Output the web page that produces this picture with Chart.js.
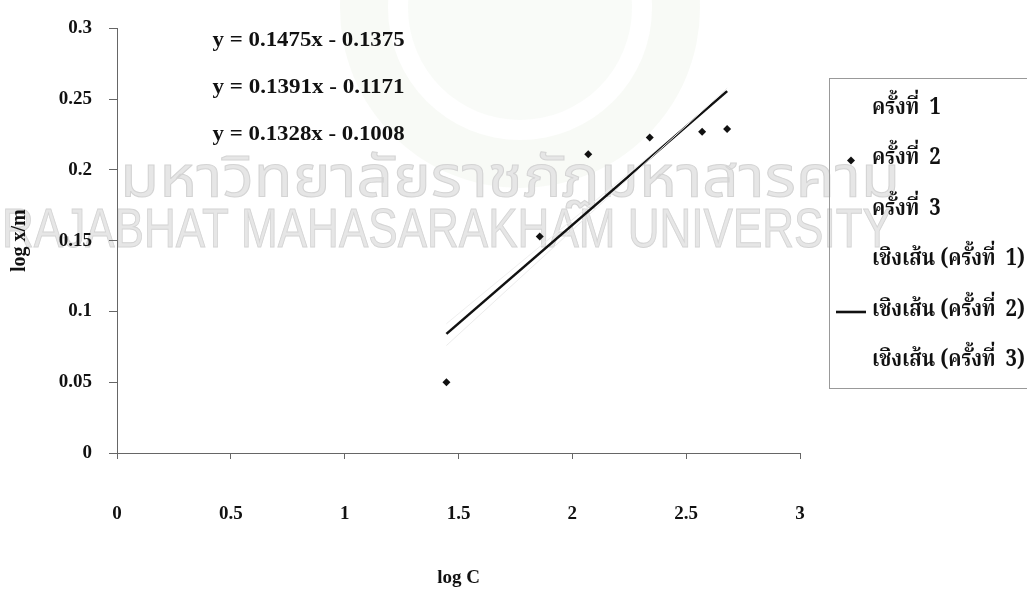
<!DOCTYPE html>
<html>
<head>
<meta charset="utf-8">
<script src="https://cdn.jsdelivr.net/npm/chart.js@4.4.1/dist/chart.umd.min.js"></script>
<style>
  html, body { margin: 0; padding: 0; background: #ffffff; }
  #wrap { width: 1027px; height: 593px; position: relative; }
</style>
</head>
<body>
<div id="wrap"><canvas id="c"></canvas></div>
<script>
// log C values of the measured points
const logC = [1.447, 1.857, 2.07, 2.34, 2.57, 2.68];
// log x/m for each run (runs 1 and 3 print too faintly to read)
const run1 = [];
const run2 = [0.050, 0.153, 0.211, 0.223, 0.227, 0.229];
const run3 = [];
// fitted linear trends: y = slope * x + intercept
const slopes = [0.1475, 0.1391, 0.1328];
const intercepts = [-0.1375, -0.1171, -0.1008];
const runNames = ['ครั้งที่  1', 'ครั้งที่  2', 'ครั้งที่  3'];
const trendNames = ['เชิงเส้น (ครั้งที่  1)', 'เชิงเส้น (ครั้งที่  2)', 'เชิงเส้น (ครั้งที่  3)'];
const xTicks = [0, 0.5, 1, 1.5, 2, 2.5, 3];
const yTicks = [0, 0.05, 0.1, 0.15, 0.2, 0.25, 0.3];

const SERIF = '"Liberation Serif", "Times New Roman", serif';
const THAI = '"Noto Serif Thai", "Norasi", "Kinnari", "Noto Sans Thai", "Loma", "DejaVu Sans", sans-serif';

function points(xs, ys) { return ys.map((y, i) => ({ x: xs[i], y })); }
function trend(k) {
  const lo = Math.min(...logC), hi = Math.max(...logC);
  return [lo, hi].map(x => ({ x, y: slopes[k] * x + intercepts[k] }));
}
function eqText(k) {
  const b = intercepts[k];
  return 'y = ' + slopes[k].toFixed(4) + 'x ' + (b < 0 ? '- ' : '+ ') + Math.abs(b).toFixed(4);
}

const runColors = ['rgba(255,255,255,0)', '#111111', 'rgba(255,255,255,0)'];
const trendColors = ['#ececec', '#111111', '#efefef'];

const datasets = [];
[run1, run2, run3].forEach((ys, k) => datasets.push({
  type: 'scatter', label: runNames[k], data: points(logC, ys),
  pointStyle: 'rectRot', pointRadius: 4, borderWidth: 0,
  backgroundColor: runColors[k], borderColor: runColors[k], legendMark: k === 1 ? 'diamond' : 'none'
}));
[0, 1, 2].forEach(k => datasets.push({
  type: 'line', label: trendNames[k], data: trend(k),
  borderColor: trendColors[k], borderWidth: k === 1 ? 2.6 : 1, pointRadius: 0,
  fill: false, tension: 0, legendMark: k === 1 ? 'line' : 'none'
}));

// draw text squeezed or stretched horizontally to a given width
function fitText(ctx, text, x, y, width, outline) {
  const w = ctx.measureText(text).width;
  ctx.save(); ctx.translate(x, y); ctx.scale(width / w, 1);
  ctx.fillText(text, 0, 0);
  if (outline) ctx.strokeText(text, 0, 0);
  ctx.restore();
}

// faint university watermark behind the plot
const backdrop = {
  id: 'backdrop',
  beforeDraw(chart) {
    const ctx = chart.ctx;
    ctx.save();
    ctx.fillStyle = '#ffffff';
    ctx.fillRect(0, 0, chart.width, chart.height);
    // seal
    ctx.beginPath();
    ctx.arc(520, 8, 180, 0, Math.PI * 2);
    ctx.arc(520, 8, 132, 0, Math.PI * 2, true);
    ctx.fillStyle = 'rgba(196,210,182,0.12)';
    ctx.fill();
    ctx.beginPath();
    ctx.arc(520, 8, 112, 0, Math.PI * 2);
    ctx.fillStyle = 'rgba(200,212,188,0.10)';
    ctx.fill();
    // names
    ctx.textBaseline = 'alphabetic';
    ctx.fillStyle = '#e6e6e6';
    ctx.strokeStyle = '#d4d4d4';
    ctx.lineWidth = 1;
    ctx.font = '58px "Noto Sans Thai", "Loma", sans-serif';
    fitText(ctx, 'มหาวิทยาลัยราชภัฏมหาสารคาม', 120, 196, 780, true);
    ctx.font = '56px "Liberation Sans Narrow", "Liberation Sans", sans-serif';
    fitText(ctx, 'RAJABHAT MAHASARAKHAM UNIVERSITY', 2, 247, 890, true);
    ctx.restore();
  }
};

// trend equations and the boxed legend
const notes = {
  id: 'notes',
  afterDraw(chart) {
    const ctx = chart.ctx;
    const xs = chart.scales.x;
    ctx.save();
    ctx.fillStyle = '#111';
    ctx.font = 'bold 20px ' + SERIF;
    ctx.textBaseline = 'middle';
    ctx.textAlign = 'left';
    const ex = xs.getPixelForValue(0.42);
    [0, 1, 2].forEach(k => fitText(ctx, eqText(k), ex, 41 + k * 47, 192, false));

    // legend frame
    ctx.strokeStyle = '#999999';
    ctx.lineWidth = 1;
    ctx.strokeRect(829.5, 78.5, 220, 310);
    const items = chart.data.datasets;
    ctx.font = 'bold 23px ' + THAI;
    const squeeze = 153 / ctx.measureText(trendNames[0]).width;
    items.forEach((ds, i) => {
      const y = 110 + i * 50.5;
      if (ds.legendMark === 'diamond') {
        ctx.fillStyle = ds.backgroundColor;
        ctx.beginPath();
        ctx.moveTo(851, y - 4); ctx.lineTo(855, y); ctx.lineTo(851, y + 4); ctx.lineTo(847, y);
        ctx.closePath(); ctx.fill();
      } else if (ds.legendMark === 'line') {
        ctx.strokeStyle = ds.borderColor; ctx.lineWidth = ds.borderWidth;
        ctx.beginPath(); ctx.moveTo(836, y); ctx.lineTo(866, y); ctx.stroke();
      }
      ctx.fillStyle = '#111';
      ctx.save(); ctx.translate(872, y); ctx.scale(squeeze, 1); ctx.fillText(ds.label, 0, 0); ctx.restore();
    });
    ctx.restore();
  }
};

const tickFont = { family: SERIF, size: 19, weight: 'bold' };

new Chart(document.getElementById('c'), {
  data: { datasets },
  options: {
    responsive: true, maintainAspectRatio: false, animation: false,
    layout: { padding: { left: 0, right: 227, top: 28, bottom: 0 } },
    plugins: { legend: { display: false }, tooltip: { enabled: false } },
    scales: {
      x: {
        type: 'linear', min: 0, max: 3,
        afterBuildTicks: s => { s.ticks = xTicks.map(v => ({ value: v })); },
        afterFit: s => { s.height = 140; },
        ticks: { color: '#111', font: tickFont, padding: 44, maxRotation: 0,
                 callback: v => String(+v.toFixed(2)) },
        grid: { drawOnChartArea: false, drawTicks: true, tickLength: 6, color: '#666' },
        border: { color: '#666', width: 1 },
        title: { display: true, text: 'log C', color: '#111', font: { family: SERIF, size: 19, weight: 'bold' },
                 padding: { top: 0, bottom: 4 } }
      },
      y: {
        type: 'linear', min: 0, max: 0.3,
        afterBuildTicks: s => { s.ticks = yTicks.map(v => ({ value: v })); },
        afterFit: s => { s.width = 117; },
        ticks: { color: '#111', font: tickFont, padding: 17,
                 callback: v => String(+v.toFixed(2)) },
        grid: { drawOnChartArea: false, drawTicks: true, tickLength: 8, color: '#666' },
        border: { color: '#666', width: 1 },
        title: { display: true, text: 'log x/m', color: '#111', font: { family: SERIF, size: 20, weight: 'bold' },
                 padding: { top: 8, bottom: 0 } }
      }
    }
  },
  plugins: [backdrop, notes]
});
</script>
</body>
</html>
